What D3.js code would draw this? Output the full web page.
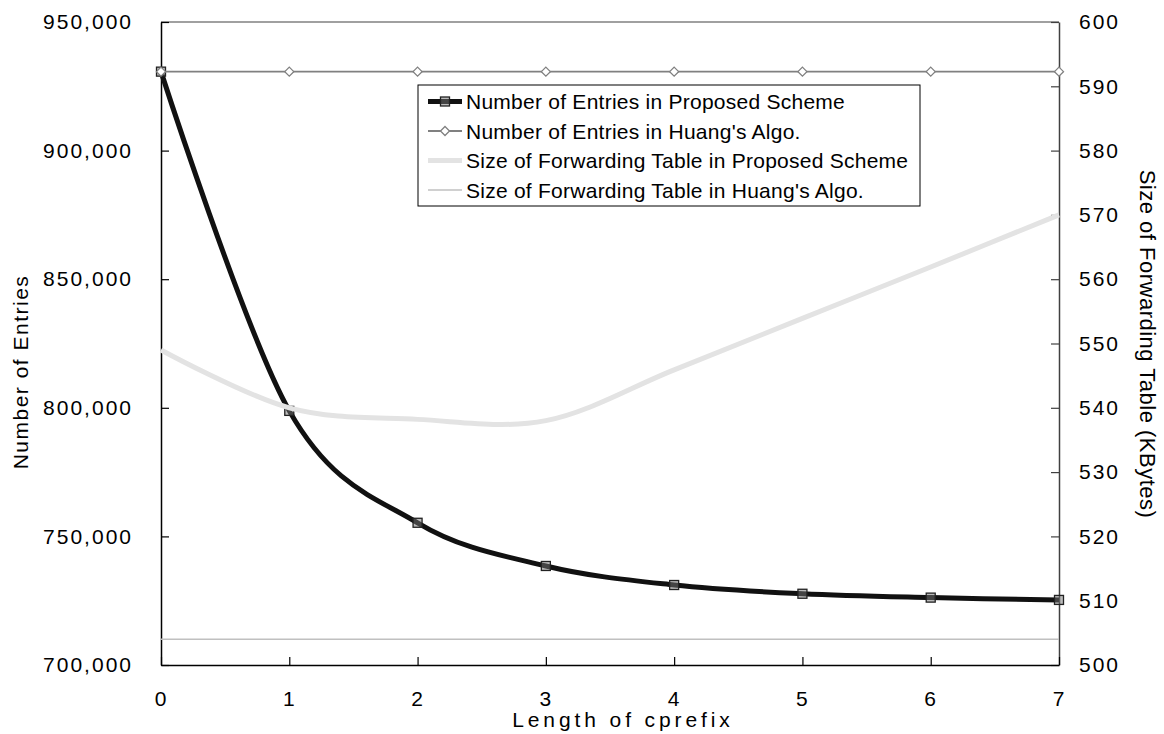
<!DOCTYPE html>
<html>
<head>
<meta charset="utf-8">
<script src="https://cdn.jsdelivr.net/npm/d3@7"></script>
<style>
  body { margin: 0; background: #fff; }
  svg text { font-family: "Liberation Sans", Arial, sans-serif; fill: #000; }
</style>
</head>
<body>
<svg id="chart" width="1164" height="734"></svg>
<script>
// values
var prefixLen = [0, 1, 2, 3, 4, 5, 6, 7];
var entriesProposed = [930700, 798800, 755300, 738500, 731100, 727700, 726200, 725300];
var entriesHuang = [930700, 930700, 930700, 930700, 930700, 930700, 930700, 930700];
var sizeProposed = [549.0, 540.0, 538.2, 538.0, 545.9, 553.9, 561.9, 570.0];
var sizeHuang = [504, 504, 504, 504, 504, 504, 504, 504];

var leftTicks = [700000, 750000, 800000, 850000, 900000, 950000];
var rightTicks = [500, 510, 520, 530, 540, 550, 560, 570, 580, 590, 600];

var legendNames = [
    'Number of Entries in Proposed Scheme',
    "Number of Entries in Huang's Algo.",
    'Size of Forwarding Table in Proposed Scheme',
    "Size of Forwarding Table in Huang's Algo."
];

var svg = d3.select('#chart');

var plotL = 161, plotR = 1059, plotT = 22, plotB = 665;

var x = d3.scaleLinear().domain([0, 7]).range([plotL, plotR]);
var yL = d3.scaleLinear().domain([700000, 950000]).range([plotB, plotT]);
var yR = d3.scaleLinear().domain([500, 600]).range([plotB, plotT]);

// top frame line
svg.append('line')
    .attr('x1', plotL).attr('x2', plotR)
    .attr('y1', plotT).attr('y2', plotT)
    .attr('stroke', '#808080').attr('stroke-width', 1.5);

var styleAxis = function(g, color) {
    g.select('.domain').attr('stroke', color).attr('stroke-width', 1.5);
    g.selectAll('.tick line').attr('stroke', color).attr('stroke-width', 1.2);
    g.selectAll('.tick text')
        .attr('fill', '#000')
        .attr('font-family', null)
        .attr('font-size', null)
        .style('font-size', '21px')
        .style('letter-spacing', '2px');
};

svg.append('g')
    .attr('transform', 'translate(' + plotL + ',0)')
    .call(d3.axisLeft(yL).tickValues(leftTicks).tickFormat(d3.format(','))
        .tickSizeInner(-8).tickSizeOuter(0).tickPadding(28))
    .call(styleAxis, '#000');

svg.append('g')
    .attr('transform', 'translate(' + plotR + ',0)')
    .call(d3.axisRight(yR).tickValues(rightTicks).tickFormat(d3.format('d'))
        .tickSizeInner(-8).tickSizeOuter(0).tickPadding(20))
    .call(styleAxis, '#404040');

svg.append('g')
    .attr('transform', 'translate(0,' + plotB + ')')
    .call(d3.axisBottom(x).tickValues(prefixLen).tickFormat(d3.format('d'))
        .tickSizeInner(-8).tickSizeOuter(0).tickPadding(26))
    .call(styleAxis, '#000');

// axis titles
svg.append('text')
    .attr('transform', 'translate(28,372) rotate(-90)')
    .attr('text-anchor', 'middle')
    .style('font-size', '21px')
    .style('letter-spacing', '1.5px')
    .text('Number of Entries');

svg.append('text')
    .attr('transform', 'translate(1140,344) rotate(90)')
    .attr('text-anchor', 'middle')
    .style('font-size', '22px')
    .style('letter-spacing', '0.5px')
    .text('Size of Forwarding Table (KBytes)');

svg.append('text')
    .attr('x', 623).attr('y', 727)
    .attr('text-anchor', 'middle')
    .style('font-size', '21px')
    .style('letter-spacing', '3.9px')
    .text('Length of cprefix');

var smooth = d3.curveCardinal.tension(0);

var lineL = d3.line()
    .x(function(d, i) { return x(prefixLen[i]); })
    .y(function(d) { return yL(d); })
    .curve(smooth);

var lineR = d3.line()
    .x(function(d, i) { return x(prefixLen[i]); })
    .y(function(d) { return yR(d); })
    .curve(smooth);

var diamond = function(cx, cy, r) {
    return 'M' + cx + ',' + (cy - r) + 'L' + (cx + r) + ',' + cy +
        'L' + cx + ',' + (cy + r) + 'L' + (cx - r) + ',' + cy + 'Z';
};

// series 1: entries, proposed
svg.append('path')
    .attr('d', lineL(entriesProposed))
    .attr('fill', 'none').attr('stroke', '#111').attr('stroke-width', 5);

svg.selectAll('rect.sq')
    .data(entriesProposed)
    .enter()
    .append('rect')
    .attr('class', 'sq')
    .attr('x', function(d, i) { return x(prefixLen[i]) - 4.5; })
    .attr('y', function(d) { return yL(d) - 4.5; })
    .attr('width', 9).attr('height', 9)
    .attr('fill', '#777').attr('fill-opacity', 0.5)
    .attr('stroke', '#222').attr('stroke-width', 1.3);

// series 2: entries, Huang
svg.append('path')
    .attr('d', lineL(entriesHuang))
    .attr('fill', 'none').attr('stroke', '#808080').attr('stroke-width', 1.8);

svg.selectAll('path.dm')
    .data(entriesHuang)
    .enter()
    .append('path')
    .attr('class', 'dm')
    .attr('d', function(d, i) { return diamond(x(prefixLen[i]), yL(d), 4.5); })
    .attr('fill', '#fff').attr('stroke', '#808080').attr('stroke-width', 1.3);

// series 3 and 4 on the secondary axis
svg.append('path')
    .attr('d', lineR(sizeProposed))
    .attr('fill', 'none').attr('stroke', '#e3e3e3').attr('stroke-width', 5);

svg.append('path')
    .attr('d', lineR(sizeHuang))
    .attr('fill', 'none').attr('stroke', '#c0c0c0').attr('stroke-width', 1.5);

// legend
var legend = svg.append('g').attr('transform', 'translate(418,85)');

legend.append('rect')
    .attr('width', 502).attr('height', 121)
    .attr('fill', '#fff').attr('stroke', '#000').attr('stroke-width', 1);

var rowY = function(i) { return 16.5 + i * 29.5; };

legend.selectAll('text.lg')
    .data(legendNames)
    .enter()
    .append('text')
    .attr('class', 'lg')
    .attr('x', 48)
    .attr('y', function(d, i) { return rowY(i) + 7.5; })
    .style('font-size', '21px')
    .style('letter-spacing', '0.25px')
    .text(function(d) { return d; });

legend.append('line')
    .attr('x1', 10).attr('x2', 44).attr('y1', rowY(0)).attr('y2', rowY(0))
    .attr('stroke', '#111').attr('stroke-width', 5);
legend.append('rect')
    .attr('x', 22.5).attr('y', rowY(0) - 4.5).attr('width', 9).attr('height', 9)
    .attr('fill', '#777').attr('fill-opacity', 0.5)
    .attr('stroke', '#222').attr('stroke-width', 1.3);

legend.append('line')
    .attr('x1', 10).attr('x2', 44).attr('y1', rowY(1)).attr('y2', rowY(1))
    .attr('stroke', '#808080').attr('stroke-width', 1.8);
legend.append('path')
    .attr('d', diamond(27, rowY(1), 4.5))
    .attr('fill', '#fff').attr('stroke', '#808080').attr('stroke-width', 1.3);

legend.append('line')
    .attr('x1', 10).attr('x2', 44).attr('y1', rowY(2)).attr('y2', rowY(2))
    .attr('stroke', '#e3e3e3').attr('stroke-width', 5);

legend.append('line')
    .attr('x1', 10).attr('x2', 44).attr('y1', rowY(3)).attr('y2', rowY(3))
    .attr('stroke', '#c0c0c0').attr('stroke-width', 1.5);
</script>
</body>
</html>
